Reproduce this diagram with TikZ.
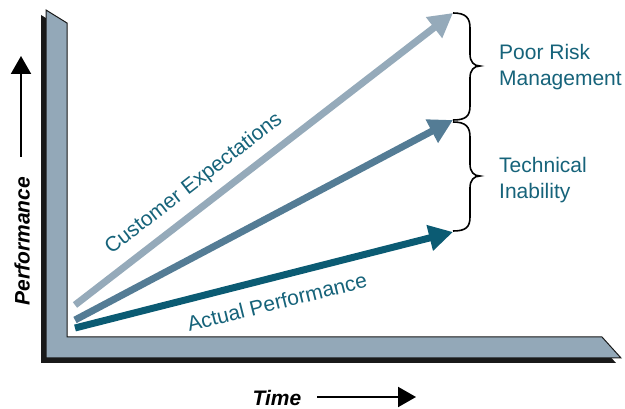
\documentclass[tikz,border=0pt]{standalone}
\usepackage{fontspec}
\setmainfont{Liberation Sans}
\usetikzlibrary{arrows.meta}
\definecolor{framegrey}{HTML}{93A8B8}
\definecolor{lightarr}{HTML}{95AABA}
\definecolor{midarr}{HTML}{547C95}
\definecolor{darkarr}{HTML}{0B5B73}
\definecolor{labelteal}{HTML}{16637A}
\tikzset{
  trend/.style={line width=7pt, -{Triangle[length=24pt,width=25pt]}},
  lbl/.style={text=labelteal, inner sep=0pt, font=\fontsize{21}{26}\selectfont},
  axislbl/.style={inner sep=0pt, font=\fontsize{21}{24}\selectfont\bfseries\itshape},
  axisarrow/.style={line width=2pt, -{Triangle[length=18pt,width=20pt]}},
  bracepath/.style={line width=1.6pt, black},
}
\begin{document}
\begin{tikzpicture}[x=1pt,y=-1pt]
\useasboundingbox (0,0) rectangle (625,409);
% frame shadow
\fill[black!90] (41,15) -- (62,28) -- (62,342) -- (597,342) -- (616,363) -- (41,363) -- cycle;
% frame
\filldraw[fill=framegrey, draw=black!90, line width=1pt] (46,10) -- (67,23) -- (67,337) -- (602,337) -- (621,358) -- (46,358) -- cycle;
% trend arrows
\coordinate (ce0) at (75,305); \coordinate (ce1) at (453,13);
\coordinate (md0) at (75,320); \coordinate (md1) at (453,120);
\coordinate (ap0) at (75,328); \coordinate (ap1) at (453,232);
\draw[trend, lightarr] (ce0) -- (ce1);
\draw[trend, midarr] (md0) -- (md1);
\draw[trend, darkarr] (ap0) -- (ap1);
% labels on arrows
\node[lbl, rotate=37.7] (celbl) at (194,184) {Customer Expectations};
\node[lbl, rotate=14] (aplbl) at (277,302) {Actual Performance};
% braces
\draw[bracepath] (453,13) .. controls (466,13) and (470,18) .. (470,28) -- (470,54)
  .. controls (470,62) and (474,66) .. (480,66) .. controls (474,66) and (470,70) .. (470,78)
  -- (470,106) .. controls (470,116) and (466,120) .. (453,120);
\draw[bracepath] (453,122) .. controls (466,122) and (470,127) .. (470,137) -- (470,164)
  .. controls (470,172) and (474,176) .. (480,176) .. controls (474,176) and (470,180) .. (470,188)
  -- (470,217) .. controls (470,227) and (466,231) .. (453,231);
% brace labels
\node[lbl, anchor=base west] (prm1) at (499,60) {Poor Risk};
\node[lbl, anchor=base west] (prm2) at (499,86) {Management};
\node[lbl, anchor=base west] (ti1) at (499,173) {Technical};
\node[lbl, anchor=base west] (ti2) at (499,199) {Inability};
% axis labels
\node[axislbl, rotate=90] (perf) at (22,241) {Performance};
\coordinate (pa0) at (21,157); \coordinate (pa1) at (21,56);
\draw[axisarrow] (pa0) -- (pa1);
\node[axislbl] (time) at (277,398) {Time};
\coordinate (ta0) at (317,397); \coordinate (ta1) at (416,397);
\draw[axisarrow] (ta0) -- (ta1);
\end{tikzpicture}
\end{document}
